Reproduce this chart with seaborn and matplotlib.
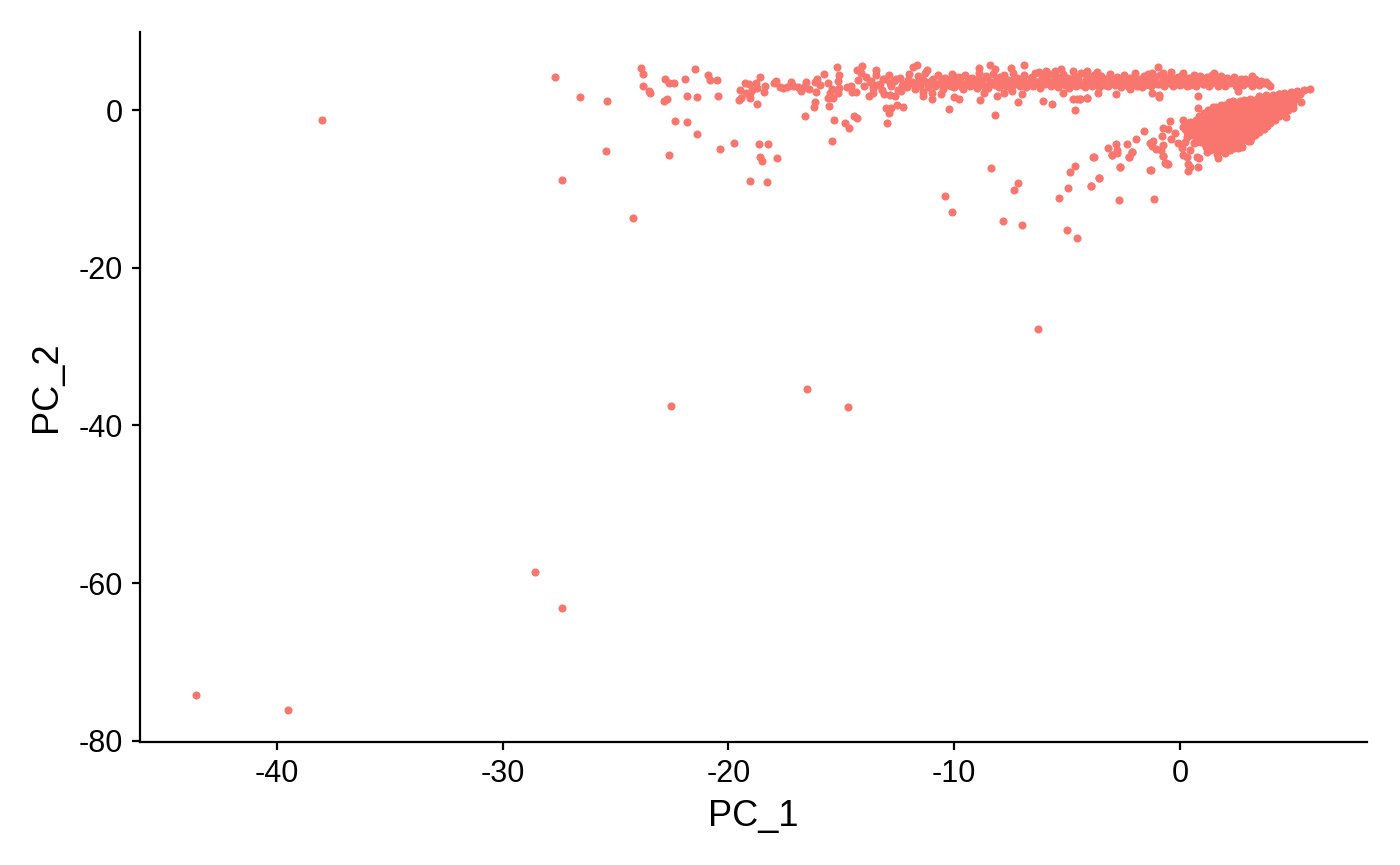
import pandas as pd
import matplotlib
matplotlib.use('Agg')
import matplotlib.pyplot as plt
import seaborn as sns

# isolated cells away from the two main arms
stray_x = [-43.6, -39.5, -38.0, -28.56, -27.37, -22.54, -16.52, -14.7, -6.29, -27.66,
           -26.56, -25.36, -25.43, -27.38, -24.24, -23.89, -23.8, -23.77, -23.5, -23.46,
           -22.83, -22.65, -22.41, -21.93, -21.48, -20.92, -20.82, -20.51, -22.84, -22.74,
           -21.84, -21.4, -20.45, -22.35, -21.85, -21.4, -22.63, -20.36, -19.74, -18.64,
           -18.24, -18.62, -18.5, -17.85, -19.05, -18.27, -16.6, -15.33, -14.84, -14.65,
           -14.43, -14.3, -15.42, -16.2, -16.15, -15.55, -18.74, -19.54, -19.46, -19.05,
           -19.49, -19.28, -19.08, -18.78, -18.62, -18.75, -18.97, -19.2, -19.05, -18.43,
           -18.37, -17.97, -17.9, -17.72, -17.57, -17.4, -17.22, -17.16, -16.91, -16.79,
           -16.58, -16.66, -16.42, -16.16, -16.07, -15.95, -16.1, -15.77, -15.61, -15.43,
           -15.5, -15.58, -15.39, -15.14, -15.09, -15.14, -15.18, -15.09, -14.77, -14.59,
           -14.52, -14.35, -14.3, -14.25]
stray_y = [-74.2, -76.05, -1.27, -58.6, -63.2, -37.5, -35.4, -37.7, -27.8, 4.14,
           1.69, 1.18, -5.2, -8.83, -13.74, 5.37, 4.52, 3.04, 2.41, 2.2,
           3.89, 3.38, 3.47, 3.97, 5.16, 4.48, 3.85, 3.81, 1.1, 1.4,
           1.82, 1.69, 1.73, -1.35, -1.48, -3.08, -5.71, -4.9, -4.18, -4.31,
           -4.31, -5.96, -6.51, -6.09, -8.96, -9.17, -0.76, -1.31, -1.69, -2.32,
           -0.76, -1.06, -3.97, 0.38, 0.97, 0.47, 0.72, 1.27, 1.48, 1.48,
           2.54, 3.47, 3.26, 3.38, 4.23, 2.83, 2.54, 2.2, 2.11, 2.33,
           3.04, 3.38, 3.72, 2.96, 2.83, 2.88, 3.59, 3.04, 2.88, 2.45,
           3.59, 2.96, 2.62, 3.59, 4.0, 3.17, 2.33, 4.52, 3.38, 2.62,
           2.2, 1.48, 1.57, 2.2, 2.75, 3.72, 5.5, 4.4, 2.96, 3.04,
           2.33, 2.33, 5.07, 3.8]

# edge points of the upper arm
rim_x = [-14.1, -14.13, -13.46, -11.81, -11.65, -11.2, -8.92, -8.41, -8.19, -7.5,
         -6.91, -6.24, -5.95, -5.25, -5.54, -4.72, -4.13, -3.69, -13.11, -13.76,
         -13.58, -12.84, -12.62, -12.37, -11.37, -11.37, -10.97, -11.0, -10.6, -10.01,
         -9.77, -8.87, -8.68, -8.12, -7.79, -7.45, -6.98, -7.17, -6.07, -5.68,
         -5.17, -4.72, -4.58, -4.43, -4.1, -4.66, -10.23, -8.21, -13.03, -12.81,
         -12.89, -12.53, -12.25, -12.99, -4.43, -4.1, -3.62, -2.84, -2.22, -1.26,
         -0.93, -0.93, -0.33, 2.58, -0.96, -1.26, -0.74, -0.42, 0.15, 1.52,
         3.17, 3.91, 3.98]
rim_y = [5.62, 4.73, 5.12, 5.41, 5.71, 5.07, 5.29, 5.67, 5.16, 5.29,
         5.67, 4.86, 4.99, 5.16, 4.99, 4.99, 4.99, 4.86, 2.03, 1.78,
         2.11, 1.9, 1.78, 2.45, 2.33, 1.82, 1.35, 2.11, 2.03, 1.69,
         1.35, 1.27, 2.11, 1.82, 2.2, 2.45, 2.07, 1.06, 1.14, 0.8,
         2.11, 1.4, 1.35, 1.35, 1.57, -0.04, 0.17, -0.67, 0.3, 0.25,
         -0.38, 0.64, 0.42, -1.65, 1.35, 1.56, 2.11, 2.03, 2.62, 2.11,
         1.9, 1.7, 3.17, 2.45, 5.41, 4.73, 4.73, 4.86, 4.73, 4.73,
         4.31, 3.3, 3.04]

# core of the upper arm
band_x = [-14.0, -13.9, -13.75, -13.6, -13.45, -13.3, -13.2, -13.05,
          -12.9, -12.8, -12.65, -12.5, -12.4, -12.25, -12.1, -12.0,
          -11.85, -11.75, -11.6, -11.5, -11.4, -11.3, -11.15, -11.05,
          -10.95, -10.85, -10.7, -10.6, -10.5, -10.4, -10.3, -10.2,
          -10.1, -10.0, -9.9, -9.8, -9.7, -9.6, -9.5, -9.4,
          -9.3, -9.2, -9.1, -9.0, -8.9, -8.8, -8.7, -8.6,
          -8.5, -8.4, -8.3, -8.2, -8.1, -8.0, -7.9, -7.8,
          -7.7, -7.6, -7.5, -7.4, -7.3, -7.2, -7.1, -7.0,
          -6.9, -6.8, -6.7, -6.6, -6.5, -6.4, -6.3, -6.2,
          -6.1, -6.0, -5.9, -5.8, -5.7, -5.6, -5.5, -5.4,
          -5.3, -5.2, -5.1, -5.0, -4.9, -4.8, -4.7, -4.6,
          -4.5, -4.4, -4.3, -4.2, -4.1, -4.0, -3.9, -3.8,
          -3.7, -3.6, -3.5, -3.4, -3.3, -3.2, -3.1, -3.0,
          -2.9, -2.8, -2.7, -2.6, -2.5, -2.4, -2.3, -2.2,
          -2.1, -2.0, -1.9, -1.8, -1.7, -1.6, -1.5, -1.4,
          -1.3, -1.2, -1.1, -1.0, -0.9, -0.8, -0.7, -0.6,
          -0.5, -0.4, -0.3, -0.2, -0.1, 0.0, 0.1, 0.2,
          0.3, 0.4, 0.5, 0.6, 0.7, 0.8, 0.9, 1.0,
          1.1, 1.2, 1.3, 1.4, 1.5, 1.6, 1.7, 1.8,
          1.9, 2.0, 2.1, 2.2, 2.3, 2.4, 2.5, 2.6,
          2.7, 2.8, 2.9, 3.0, 3.1, 3.2, 3.3, 3.4,
          3.5, 3.6, 3.7, 3.8]
band_y = [3.1, 4.2, 3.5, 2.8, 4.5, 3.3, 2.6, 3.9,
          4.4, 3.0, 3.7, 2.5, 4.1, 3.3, 2.9, 4.6,
          3.6, 2.7, 4.3, 3.1, 3.8, 4.7, 2.9, 3.4,
          4.0, 3.0, 4.4, 3.5, 2.7, 4.1, 3.2, 3.8,
          4.6, 2.9, 3.5, 4.2, 3.1, 2.7, 4.5, 3.7,
          3.0, 4.1, 3.4, 2.8, 4.7, 3.8, 3.1, 4.3,
          2.8, 3.6, 4.6, 3.2, 4.0, 2.9, 3.5, 4.4,
          3.1, 3.8, 2.8, 4.7, 3.3, 4.1, 3.0, 3.7,
          4.5, 2.9, 3.4, 4.1, 3.1, 4.7, 3.6, 2.8,
          4.2, 3.3, 3.8, 4.6, 3.0, 3.5, 4.3, 2.9,
          3.8, 4.6, 3.2, 4.1, 2.8, 3.6, 4.4, 3.0,
          3.9, 4.7, 3.3, 2.9, 4.2, 3.5, 3.1, 4.5,
          3.7, 2.9, 4.3, 3.3, 4.0, 3.0, 4.6, 3.5,
          3.2, 4.2, 3.8, 2.9, 4.5, 3.4, 3.0, 4.1,
          3.6, 4.7, 3.1, 3.9, 2.9, 4.3, 3.4, 4.6,
          3.0, 3.8, 4.2, 3.3, 4.5, 3.6, 3.0, 4.1,
          3.4, 4.5, 3.0, 3.8, 4.2, 3.2, 4.4, 3.6,
          3.0, 4.1, 3.5, 4.5, 3.1, 3.9, 4.3, 3.3,
          3.7, 4.2, 3.0, 4.5, 3.5, 3.9, 3.1, 4.3,
          3.6, 3.0, 4.1, 3.4, 3.8, 4.2, 3.1, 3.6,
          3.9, 3.2, 4.0, 3.4, 3.7, 3.1, 3.9, 3.5,
          3.2, 3.7, 3.4, 3.5]

# second pass over the core, where the dots run together
core_x = [-13.7, -13.4, -13.15, -12.85, -12.6, -12.3, -12.05, -11.8, -11.55, -11.25,
          -11.0, -10.75, -10.55, -10.35, -10.15, -9.95, -9.75, -9.55, -9.35, -9.15,
          -8.95, -8.75, -8.55, -8.35, -8.15, -7.95, -7.75, -7.55, -7.35, -7.15,
          -6.95, -6.75, -6.55, -6.35, -6.15, -5.95, -5.75, -5.55, -5.35, -5.15,
          -4.95, -4.75, -4.55, -4.35, -4.15, -3.95, -3.75, -3.55, -3.35, -3.15,
          -2.95, -2.75, -2.55, -2.35, -2.15, -1.95, -1.75, -1.55, -1.35, -1.15,
          -0.95, -0.75, -0.55, -0.35, -0.15, 0.05, 0.25, 0.45, 0.65, 0.85,
          1.05, 1.25, 1.45, 1.65, 1.85, 2.05, 2.25, 2.45, 2.65, 2.85]
core_y = [3.7, 3.2, 4.0, 3.4, 3.9, 3.1, 3.8, 3.3, 4.0, 3.5,
          3.8, 3.3, 4.0, 3.6, 3.1, 4.2, 3.7, 3.3, 4.0, 3.5,
          3.9, 3.3, 4.1, 3.6, 3.3, 4.2, 3.7, 3.2, 4.0, 3.5,
          3.9, 3.3, 4.2, 3.6, 3.2, 4.0, 3.5, 4.1, 3.4, 3.7,
          3.3, 4.0, 3.6, 3.2, 3.8, 4.1, 3.4, 3.7, 3.2, 4.1,
          3.6, 3.3, 4.0, 3.7, 3.4, 3.9, 3.6, 3.2, 4.0, 3.7,
          3.3, 3.9, 3.5, 4.0, 3.3, 3.8, 3.6, 3.2, 4.0, 3.6,
          3.3, 3.8, 3.5, 3.9, 3.3, 3.7, 3.5, 3.9, 3.3, 3.7]

# scattered cells feeding into the lower arm
tail_x = [0.78, 0.81, 0.12, -0.44, -0.77, -0.52, -1.58, -0.22, -0.81, -0.42,
          -1.95, -2.36, -2.84, -3.2, -2.81, -3.03, -2.11, -2.25, -3.84, -2.66,
          -1.32, -3.59, -3.96, -1.33, -1.18, -1.26, -1.07, -0.77, -0.84, -0.77,
          -0.67, -0.55, -0.08, 0.22, 0.15, 0.07, 0.44, 0.29, 0.37, 0.44,
          0.37, 0.81, 0.84, 0.74, 0.63, 1.7, 2.58, 2.73, 1.18, 0.29,
          0.15, 0.29, 4.68, 5.38, 5.0, 3.1, -8.37, -7.16, -7.35, -10.4,
          -10.08, -7.82, -6.98, -5.36, -4.94, -4.88, -4.66, -5.02, -4.56, -3.95,
          -3.57, -3.82, -2.65, -2.7, -1.13, -1.3, -3.02, -2.8, -2.24, -2.11,
          -0.76, -0.63, -0.56]
tail_y = [1.77, 0.3, -1.27, -1.4, -2.24, -2.45, -2.66, -2.96, -3.3, -3.72,
          -3.68, -4.35, -4.35, -4.86, -5.07, -5.71, -5.3, -6.0, -6.0, -7.27,
          -7.65, -8.62, -9.6, -4.23, -3.93, -4.57, -5.0, -4.44, -5.07, -5.83,
          -6.76, -6.85, -4.23, -4.02, -5.71, -4.86, -5.07, -5.92, -6.85, -7.19,
          -7.74, -7.19, -6.13, -5.92, -4.23, -6.05, -4.86, -4.73, -5.3, -3.38,
          -2.11, -2.75, -0.85, 1.06, 0.21, -3.93, -7.4, -9.3, -10.18, -10.95,
          -12.93, -14.07, -14.54, -11.16, -9.85, -7.82, -7.06, -15.17, -16.19, -9.59,
          -8.62, -6.0, -7.27, -11.45, -11.33, -7.65, -5.7, -5.4, -6.0, -5.37,
          -5.83, -6.72, -6.8]

# dense lower arm
blob_x = [5.75, 5.5, 5.2, 4.9, 4.6, 4.4,
          5.2, 4.9, 4.6, 4.3, 4.0, 3.7, 3.4, 3.1, 2.85,
          5.0, 4.7, 4.4, 4.1, 3.8, 3.5, 3.2, 2.9, 2.6, 2.3, 2.0, 1.8,
          4.8, 4.5, 4.2, 3.9, 3.6, 3.3, 3.0, 2.7, 2.4, 2.1, 1.8, 1.5, 1.25,
          4.4, 4.1, 3.8, 3.5, 3.2, 2.9, 2.6, 2.3, 2.0, 1.7, 1.4, 1.1, 0.85,
          4.0, 3.7, 3.4, 3.1, 2.8, 2.5, 2.2, 1.9, 1.6, 1.3, 1.0, 0.7, 0.45, 0.2,
          3.7, 3.4, 3.1, 2.8, 2.5, 2.2, 1.9, 1.6, 1.3, 1.0, 0.7, 0.45, 0.2,
          3.3, 3.0, 2.7, 2.4, 2.1, 1.8, 1.5, 1.2, 0.9, 0.55,
          3.0, 2.7, 2.4, 2.1, 1.8, 1.5, 1.2, 0.95, 0.7,
          2.4, 2.1, 1.8, 1.5, 1.15,
          2.0, 1.65]
blob_y = [2.65, 2.5, 2.4, 2.3, 2.2, 2.1,
          1.6, 1.7, 1.5, 1.6, 1.45, 1.55, 1.35, 1.4, 1.3,
          0.8, 0.7, 0.9, 0.8, 0.7, 0.85, 0.75, 0.8, 0.7, 0.8, 0.6, 0.7,
          0.0, 0.1, -0.1, 0.0, 0.1, -0.1, 0.0, 0.1, -0.1, 0.0, 0.1, -0.1, 0.0,
          -0.8, -0.7, -0.9, -0.8, -0.7, -0.85, -0.75, -0.8, -0.9, -0.7, -0.8, -0.9, -0.7,
          -1.6, -1.5, -1.7, -1.6, -1.5, -1.7, -1.6, -1.5, -1.7, -1.6, -1.5, -1.7, -1.5, -1.6,
          -2.4, -2.3, -2.5, -2.4, -2.3, -2.5, -2.4, -2.3, -2.5, -2.4, -2.3, -2.5, -2.4,
          -3.2, -3.1, -3.3, -3.2, -3.1, -3.3, -3.2, -3.1, -3.3, -3.2,
          -3.9, -4.0, -4.1, -3.9, -4.0, -4.1, -3.9, -4.0, -4.1,
          -4.8, -4.7, -4.9, -4.8, -4.7,
          -5.5, -5.6]

# the same arm again, between those rows
fill_x = [5.3, 5.0, 4.7, 4.4, 4.1, 3.8, 3.5,
          5.05, 4.75, 4.45, 4.15, 3.85, 3.55, 3.25, 2.95, 2.65, 2.35, 2.15,
          4.9, 4.6, 4.3, 4.0, 3.7, 3.4, 3.1, 2.8, 2.5, 2.2, 1.9, 1.6, 1.45,
          4.6, 4.3, 4.0, 3.7, 3.4, 3.1, 2.8, 2.5, 2.2, 1.9, 1.6, 1.3, 1.05,
          4.2, 3.9, 3.6, 3.3, 3.0, 2.7, 2.4, 2.1, 1.8, 1.5, 1.2, 0.9, 0.7,
          3.85, 3.55, 3.25, 2.95, 2.65, 2.35, 2.05, 1.75, 1.45, 1.15, 0.85, 0.55, 0.3,
          3.5, 3.2, 2.9, 2.6, 2.3, 2.0, 1.7, 1.4, 1.1, 0.8, 0.5,
          3.15, 2.85, 2.55, 2.25, 1.95, 1.65, 1.35, 1.05, 0.75,
          2.6, 2.3, 2.0, 1.7, 1.4, 1.1,
          2.2, 1.9, 1.6, 1.35]
fill_y = [2.0, 2.05, 1.95, 2.0, 1.9, 1.85, 1.8,
          1.25, 1.15, 1.2, 1.1, 1.2, 1.15, 1.1, 1.2, 1.1, 1.15, 1.05,
          0.4, 0.35, 0.45, 0.35, 0.4, 0.45, 0.3, 0.4, 0.35, 0.45, 0.3, 0.4, 0.35,
          -0.45, -0.35, -0.4, -0.45, -0.35, -0.4, -0.45, -0.35, -0.4, -0.3, -0.45, -0.35, -0.4,
          -1.25, -1.15, -1.2, -1.25, -1.15, -1.2, -1.25, -1.15, -1.2, -1.25, -1.15, -1.2, -1.25,
          -2.0, -1.95, -2.05, -2.0, -1.95, -2.05, -2.0, -1.95, -2.05, -2.0, -1.95, -2.05, -2.0,
          -2.8, -2.85, -2.75, -2.8, -2.85, -2.75, -2.8, -2.85, -2.75, -2.8, -2.85,
          -3.6, -3.55, -3.65, -3.6, -3.55, -3.65, -3.6, -3.55, -3.65,
          -4.4, -4.45, -4.35, -4.4, -4.45, -4.35,
          -5.1, -5.15, -5.05, -5.1]

x_ticks = [-40, -30, -20, -10, 0]
y_ticks = [-80, -60, -40, -20, 0]

df = pd.DataFrame({
    'PC_1': stray_x + rim_x + band_x + core_x + tail_x + blob_x + fill_x,
    'PC_2': stray_y + rim_y + band_y + core_y + tail_y + blob_y + fill_y,
})

sns.set_style('ticks')
plt.rcParams['font.family'] = ['Liberation Sans', 'DejaVu Sans']
plt.rcParams['axes.unicode_minus'] = False

fig, ax = plt.subplots(figsize=(14, 8.65), dpi=100)
fig.subplots_adjust(left=0.1, right=0.9764, bottom=0.1422, top=0.963)

sns.scatterplot(data=df, x='PC_1', y='PC_2', color='#F8766D', s=34, linewidth=0, ax=ax)

ax.set_xlim(-46.06, 8.28)
ax.set_ylim(-80.15, 9.9)
ax.set_xticks(x_ticks)
ax.set_yticks(y_ticks)
ax.tick_params(labelsize=22, width=1.6, length=5.5, color='black', labelcolor='black', pad=7)
ax.set_xlabel('PC_1', fontsize=26, labelpad=7, color='black')
ax.set_ylabel('PC_2', fontsize=26, labelpad=10, color='black')
sns.despine(ax=ax)
for side in ['left', 'bottom']:
    ax.spines[side].set_linewidth(1.6)
    ax.spines[side].set_color('black')

fig.savefig('out.png', dpi=100, facecolor='white')
